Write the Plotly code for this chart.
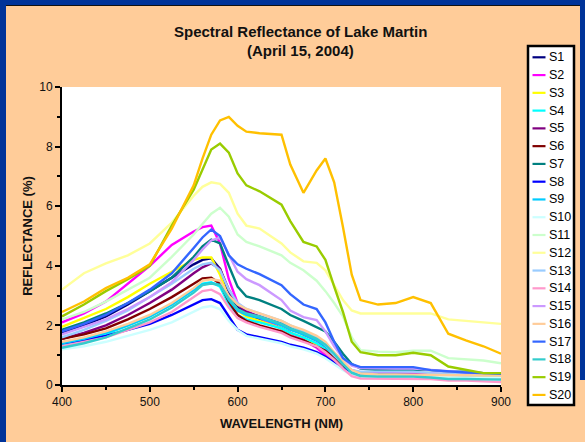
import plotly.graph_objects as go

wavelength = [400, 425, 450, 475, 500, 525, 550, 560, 570, 580, 590, 600, 610, 625, 650, 660,
              675, 690, 700, 710, 720, 730, 740, 760, 780, 800, 820, 840, 860, 880, 900]

names = ["S1", "S2", "S3", "S4", "S5", "S6", "S7", "S8", "S9", "S10",
         "S11", "S12", "S13", "S14", "S15", "S16", "S17", "S18", "S19", "S20"]

colors = ["#000080", "#FF00FF", "#FFFF00", "#00FFFF", "#800080", "#800000", "#008080", "#0000FF",
          "#00CCFF", "#CCFFFF", "#CCFFCC", "#FFFF99", "#99CCFF", "#FF99CC", "#CC99FF", "#FFCC99",
          "#3366FF", "#33CCCC", "#99CC00", "#FFC000"]

S1 = [1.75, 2.0, 2.3, 2.7, 3.15, 3.6, 4.05, 4.2, 4.25, 3.9, 3.1, 2.6, 2.4, 2.2, 1.9, 1.75,
      1.55, 1.35, 1.15, 0.85, 0.6, 0.4, 0.35, 0.35, 0.33, 0.33, 0.32, 0.3, 0.3, 0.28, 0.25]
S2 = [2.1, 2.4, 2.8, 3.4, 4.0, 4.7, 5.15, 5.3, 5.35, 4.75, 3.55, 2.75, 2.5, 2.25, 1.9, 1.75,
      1.5, 1.25, 1.0, 0.8, 0.65, 0.5, 0.42, 0.4, 0.4, 0.38, 0.38, 0.36, 0.35, 0.35, 0.35]
S3 = [1.95, 2.25, 2.55, 2.95, 3.4, 3.8, 4.2, 4.28, 4.28, 3.7, 2.9, 2.5, 2.3, 2.15, 1.9, 1.75,
      1.6, 1.35, 1.1, 0.85, 0.6, 0.45, 0.4, 0.35, 0.33, 0.32, 0.32, 0.3, 0.3, 0.3, 0.3]
S4 = [1.35, 1.5, 1.7, 2.0, 2.3, 2.7, 3.2, 3.4, 3.45, 3.3, 2.7, 2.35, 2.2, 2.1, 1.9, 1.75,
      1.6, 1.4, 1.2, 0.9, 0.6, 0.4, 0.33, 0.3, 0.3, 0.3, 0.28, 0.28, 0.28, 0.28, 0.28]
S5 = [1.55, 1.75, 2.0, 2.35, 2.75, 3.2, 3.75, 3.95, 4.08, 3.9, 3.2, 2.7, 2.45, 2.3, 2.05, 1.9,
      1.7, 1.5, 1.3, 1.0, 0.7, 0.45, 0.38, 0.35, 0.35, 0.33, 0.32, 0.3, 0.3, 0.3, 0.3]
S6 = [1.55, 1.7, 1.9, 2.2, 2.55, 2.95, 3.4, 3.58, 3.6, 3.4, 2.8, 2.35, 2.15, 2.0, 1.8, 1.65,
      1.5, 1.3, 1.15, 0.9, 0.65, 0.42, 0.35, 0.33, 0.32, 0.3, 0.3, 0.3, 0.28, 0.28, 0.28]
S7 = [1.85, 2.1, 2.4, 2.75, 3.15, 3.6, 4.3, 4.65, 4.88, 4.75, 4.0, 3.3, 2.97, 2.85, 2.55, 2.35,
      2.15, 1.95, 1.8, 1.45, 1.05, 0.7, 0.55, 0.5, 0.5, 0.5, 0.5, 0.45, 0.45, 0.4, 0.4]
S8 = [1.4, 1.5, 1.65, 1.85, 2.05, 2.35, 2.7, 2.85, 2.88, 2.75, 2.3, 1.85, 1.7, 1.6, 1.45, 1.35,
      1.25, 1.1, 0.95, 0.75, 0.55, 0.4, 0.35, 0.35, 0.35, 0.35, 0.35, 0.33, 0.3, 0.3, 0.28]
S9 = [1.4, 1.55, 1.75, 2.0, 2.3, 2.7, 3.2, 3.38, 3.42, 3.35, 2.85, 2.5, 2.35, 2.25, 2.0, 1.85,
      1.7, 1.5, 1.3, 1.0, 0.7, 0.45, 0.38, 0.35, 0.35, 0.33, 0.32, 0.3, 0.3, 0.3, 0.3]
S10 = [1.2, 1.3, 1.45, 1.65, 1.85, 2.1, 2.45, 2.6, 2.65, 2.55, 2.15, 1.85, 1.65, 1.55, 1.4, 1.3,
       1.2, 1.05, 0.9, 0.7, 0.5, 0.35, 0.3, 0.28, 0.28, 0.27, 0.27, 0.26, 0.25, 0.25, 0.25]
S11 = [2.2, 2.45, 2.8, 3.2, 3.6, 4.3, 5.05, 5.4, 5.75, 5.95, 5.65, 5.05, 4.8, 4.65, 4.35, 4.1,
       3.85, 3.5, 3.15, 2.75, 2.3, 1.6, 1.17, 1.12, 1.1, 1.15, 1.15, 0.9, 0.86, 0.82, 0.73]
S12 = [3.2, 3.75, 4.08, 4.35, 4.75, 5.45, 6.35, 6.65, 6.8, 6.75, 6.45, 5.75, 5.35, 5.25, 4.75, 4.45,
       4.15, 4.1, 3.85, 3.35, 2.85, 2.5, 2.4, 2.4, 2.4, 2.4, 2.4, 2.2, 2.15, 2.1, 2.05]
S13 = [1.6, 1.85, 2.15, 2.5, 2.95, 3.4, 3.9, 4.05, 4.1, 3.85, 3.2, 2.75, 2.55, 2.4, 2.15, 2.0,
       1.8, 1.6, 1.35, 1.0, 0.7, 0.5, 0.45, 0.45, 0.45, 0.45, 0.4, 0.38, 0.35, 0.35, 0.33]
S14 = [1.3, 1.45, 1.6, 1.85, 2.1, 2.45, 2.95, 3.15, 3.2, 3.05, 2.6, 2.25, 2.1, 1.95, 1.75, 1.6,
       1.45, 1.3, 1.1, 0.85, 0.55, 0.3, 0.22, 0.22, 0.2, 0.2, 0.2, 0.15, 0.15, 0.12, 0.1]
S15 = [1.7, 1.95, 2.2, 2.55, 2.95, 3.45, 4.2, 4.55, 4.85, 4.95, 4.4, 3.8, 3.55, 3.35, 2.85, 2.5,
       2.28, 2.18, 1.8, 1.3, 0.9, 0.65, 0.57, 0.55, 0.55, 0.55, 0.5, 0.45, 0.42, 0.4, 0.38]
S16 = [1.45, 1.6, 1.8, 2.05, 2.35, 2.75, 3.25, 3.5, 3.55, 3.5, 3.0, 2.7, 2.55, 2.4, 2.15, 2.0,
       1.85, 1.65, 1.45, 1.1, 0.8, 0.5, 0.38, 0.35, 0.35, 0.34, 0.33, 0.32, 0.32, 0.32, 0.32]
S17 = [1.8, 2.05, 2.35, 2.75, 3.2, 3.75, 4.6, 4.95, 5.22, 5.0, 4.35, 4.05, 3.9, 3.72, 3.35, 3.05,
       2.7, 2.55, 2.1, 1.45, 0.9, 0.7, 0.6, 0.6, 0.6, 0.6, 0.5, 0.45, 0.42, 0.4, 0.38]
S18 = [1.25, 1.4, 1.6, 1.9, 2.2, 2.6, 3.1, 3.35, 3.4, 3.35, 2.9, 2.55, 2.4, 2.3, 2.05, 1.9,
       1.75, 1.55, 1.35, 1.05, 0.7, 0.4, 0.3, 0.28, 0.28, 0.28, 0.25, 0.2, 0.2, 0.18, 0.18]
S19 = [2.3, 2.7, 3.15, 3.55, 4.0, 5.35, 6.55, 7.25, 7.9, 8.1, 7.8, 7.1, 6.7, 6.5, 6.05, 5.5,
       4.8, 4.65, 4.2, 3.3, 2.45, 1.45, 1.1, 1.0, 1.0, 1.08, 1.0, 0.62, 0.5, 0.4, 0.4]
S20 = [2.45, 2.8, 3.25, 3.6, 4.05, 5.25, 6.7, 7.6, 8.4, 8.88, 9.0, 8.7, 8.5, 8.45, 8.4, 7.4,
       6.45, 7.2, 7.6, 6.8, 5.3, 3.7, 2.85, 2.7, 2.75, 2.95, 2.75, 1.72, 1.5, 1.3, 1.05]

series = [S1, S2, S3, S4, S5, S6, S7, S8, S9, S10,
          S11, S12, S13, S14, S15, S16, S17, S18, S19, S20]

x_ticks = [400, 500, 600, 700, 800, 900]
y_ticks = [0, 2, 4, 6, 8, 10]

W, H = 585, 442
PL, PR, PT, PB = 62, 501, 87, 385  # plot area in pixels


def px(x):
    return (x - PL) / (PR - PL)


def py(y):
    return (PB - y) / (PB - PT)


FONT = "Liberation Sans, Arial, sans-serif"

fig = go.Figure()
for name, col, vals in zip(names, colors, series):
    fig.add_trace(go.Scatter(x=wavelength, y=vals, mode="lines", name=name,
                             line=dict(color=col, width=2.4), showlegend=False))

shapes = []
annotations = []
# blue frame
shapes.append(dict(type="rect", xref="paper", yref="paper", x0=px(0), x1=px(6), y0=py(H), y1=py(0),
                   fillcolor="#003399", line=dict(width=0), layer="below"))
shapes.append(dict(type="rect", xref="paper", yref="paper", x0=px(0), x1=px(W), y0=py(5), y1=py(0),
                   fillcolor="#003399", line=dict(width=0), layer="below"))
shapes.append(dict(type="rect", xref="paper", yref="paper", x0=px(580), x1=px(W), y0=py(380), y1=py(0),
                   fillcolor="#003399", line=dict(width=0), layer="below"))
shapes.append(dict(type="line", xref="paper", yref="paper", x0=px(6), x1=px(580), y0=py(5.5), y1=py(5.5),
                   line=dict(color="#111111", width=1.2), layer="below"))

# legend box
shapes.append(dict(type="rect", xref="paper", yref="paper", x0=px(528), x1=px(574), y0=py(405), y1=py(46),
                   fillcolor="white", line=dict(color="black", width=2.5)))
for i, (name, col) in enumerate(zip(names, colors)):
    yy = 57.3 + i * 17.77
    shapes.append(dict(type="line", xref="paper", yref="paper", x0=px(532.5), x1=px(545.5),
                       y0=py(yy), y1=py(yy), line=dict(color=col, width=2.2)))
    annotations.append(dict(text=name, xref="paper", yref="paper", x=px(547), y=py(yy),
                            xanchor="left", yanchor="middle", showarrow=False,
                            font=dict(family=FONT, size=12.5, color="black")))

# titles
annotations.append(dict(text="<b>Spectral Reflectance of Lake Martin</b>", xref="paper", yref="paper",
                        x=px(300), y=py(31), xanchor="center", yanchor="middle", showarrow=False,
                        font=dict(family=FONT, size=15, color="#111111")))
annotations.append(dict(text="<b>(April 15, 2004)</b>", xref="paper", yref="paper",
                        x=px(300), y=py(51), xanchor="center", yanchor="middle", showarrow=False,
                        font=dict(family=FONT, size=15, color="#111111")))

fig.update_layout(
    width=W, height=H,
    margin=dict(l=PL, r=W - PR, t=PT, b=H - PB, pad=0),
    paper_bgcolor="#FFCC99",
    plot_bgcolor="white",
    showlegend=False,
    shapes=shapes,
    annotations=annotations,
    font=dict(family=FONT, size=12, color="#111111"),
    xaxis=dict(range=[400, 900], tickvals=x_ticks, showgrid=False, zeroline=False,
               showline=True, linecolor="black", linewidth=2,
               ticks="outside", ticklen=5, tickwidth=2, tickcolor="black",
               minor=dict(dtick=50, ticks="outside", ticklen=3, tickwidth=2, tickcolor="black"),
               tickfont=dict(family=FONT, size=12, color="#111111"),
               title=dict(text="<b>WAVELENGTH (NM)</b>", standoff=10,
                          font=dict(family=FONT, size=13, color="#111111"))),
    yaxis=dict(range=[0, 10], tickvals=y_ticks, showgrid=False, zeroline=False,
               showline=True, linecolor="black", linewidth=2,
               ticks="outside", ticklen=5, tickwidth=2, tickcolor="black",
               minor=dict(dtick=1, ticks="outside", ticklen=3, tickwidth=2, tickcolor="black"),
               tickfont=dict(family=FONT, size=12, color="#111111"),
               title=dict(text="<b>REFLECTANCE (%)</b>", standoff=4,
                          font=dict(family=FONT, size=13, color="#111111"))),
)

fig.write_html("out.html", config={"displayModeBar": False},
               post_script="document.body.style.margin='0';document.body.style.overflow='hidden';")
